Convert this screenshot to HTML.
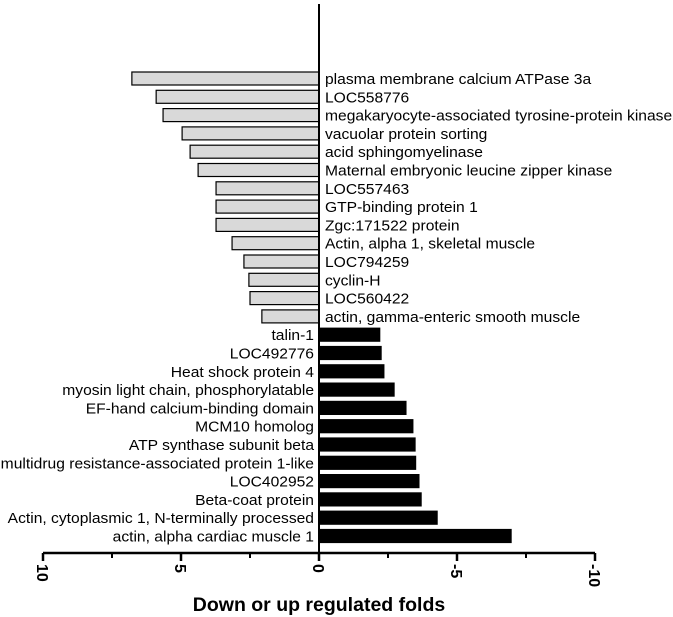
<!DOCTYPE html>
<html><head><meta charset="utf-8"><style>
body{margin:0;background:#fff;}
svg{display:block;font-family:"Liberation Sans",Arial,sans-serif;}
</style></head><body>
<svg id="c" width="673" height="617"></svg>
<script>
const labels=["plasma membrane calcium ATPase 3a","LOC558776","megakaryocyte-associated tyrosine-protein kinase","vacuolar protein sorting","acid sphingomyelinase","Maternal embryonic leucine zipper kinase","LOC557463","GTP-binding protein 1","Zgc:171522 protein","Actin, alpha 1, skeletal muscle","LOC794259","cyclin-H","LOC560422","actin, gamma-enteric smooth muscle","talin-1","LOC492776","Heat shock protein 4","myosin light chain, phosphorylatable","EF-hand calcium-binding domain","MCM10 homolog","ATP synthase subunit beta","multidrug resistance-associated protein 1-like","LOC402952","Beta-coat protein","Actin, cytoplasmic 1, N-terminally processed","actin, alpha cardiac muscle 1"];
const values=[6.78,5.9,5.65,4.96,4.67,4.38,3.73,3.73,3.73,3.15,2.72,2.54,2.5,2.07,-2.2,-2.25,-2.35,-2.72,-3.15,-3.4,-3.48,-3.5,-3.62,-3.7,-4.28,-6.96];
const ticks=[10,5,0,-5,-10];
const minorTicks=[7.5,2.5,-2.5,-7.5];
const NS="http://www.w3.org/2000/svg";
const svg=document.getElementById('c');
const x=v=>319-v*27.6;
const yTop=i=>72+i*18.3;
const axisY=553;
function mk(t,a,p){const e=document.createElementNS(NS,t);for(const k in a)e.setAttribute(k,a[k]);(p||svg).appendChild(e);return e;}
values.forEach((v,i)=>{
  const pos=v>0;
  const r=mk('rect',{x:Math.min(x(v),x(0)),y:yTop(i),width:Math.abs(x(v)-x(0)),height:13,fill:pos?'#d9d9d9':'#000',stroke:'#000','stroke-width':1.2});
  
  
  const ax=pos?x(0)+6:x(0)-5;
  const t=mk('text',{x:0,y:0,'font-size':14.4,'text-anchor':pos?'start':'end',fill:'#000',transform:`translate(${ax},${yTop(i)+12}) scale(1.085,1)`});
  t.textContent=labels[i];
  
  
});
const ya=mk('line',{x1:x(0),x2:x(0),y1:4,y2:axisY,stroke:'#000','stroke-width':2});


const xa=mk('line',{x1:x(10),x2:x(-10),y1:axisY,y2:axisY,stroke:'#000','stroke-width':2.5});


ticks.forEach(v=>{
  const l=mk('line',{x1:x(v),x2:x(v),y1:axisY,y2:axisY+8,stroke:'#000','stroke-width':2.5});
  
  
  const t=mk('text',{x:0,y:0,'font-size':16,'font-weight':'bold','text-anchor':'start',transform:`translate(${x(v)-6},${axisY+11}) rotate(90)`});
  t.textContent=String(v);
  
  
});
minorTicks.forEach(v=>{
  const l=mk('line',{x1:x(v),x2:x(v),y1:axisY,y2:axisY+5,stroke:'#000','stroke-width':2});
  
  
});
const tt=mk('text',{x:319,y:611,'font-size':19.5,'font-weight':'bold','text-anchor':'middle'});
tt.textContent='Down or up regulated folds';


</script>
</body></html>
